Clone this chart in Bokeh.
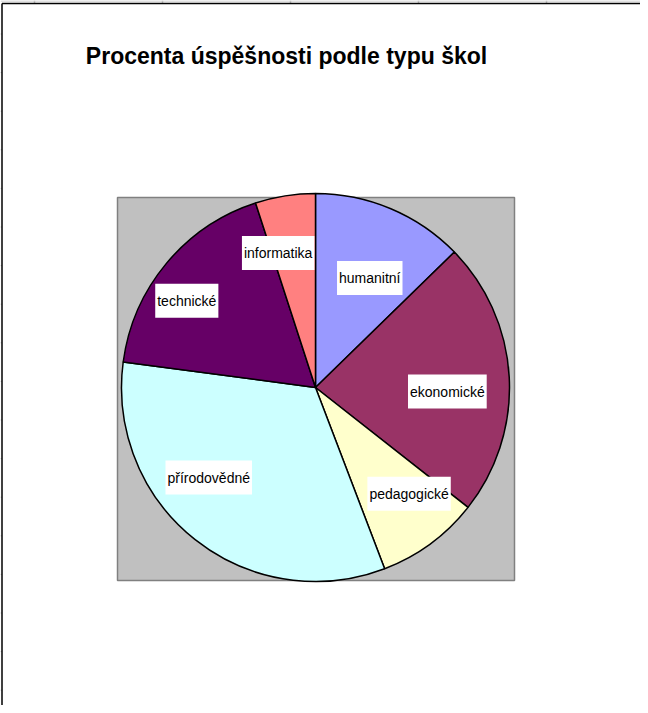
import math
from bokeh.plotting import figure
from bokeh.models import Range1d, ColumnDataSource
from bokeh.core.properties import value
from bokeh.embed import file_html
from bokeh.resources import INLINE

# ---- data ----
title_text = "Procenta úspěšnosti podle typu škol"
categories = ["humanitní", "ekonomické", "pedagogické", "přírodovědné", "technické", "informatika"]
shares = [12.7, 22.9, 8.6, 32.9, 17.9, 5.0]

# ---- styles ----
colors = ["#9999FF", "#993366", "#FFFFCC", "#CCFFFF", "#660066", "#FF8080"]
# label placement: angular shift (deg) from slice middle, radius as fraction of pie radius
label_dtheta = [3.5, 4.8, -5.0, 11.5, -5.8, -6.5]
label_rfrac = [0.63, 0.68, 0.73, 0.72, 0.80, 0.72]

W, H = 640, 705
PAGE_H = 713
CX, CY = 315, PAGE_H - 387
R = 194

p = figure(width=W, height=H, output_backend="svg", toolbar_location=None,
           x_range=Range1d(0, W), y_range=Range1d(PAGE_H - H, PAGE_H), min_border=0,
           background_fill_color="white", border_fill_color="white")
p.axis.visible = False
p.xgrid.visible = False
p.ygrid.visible = False
p.outline_line_color = None

# sheet grid remnants and chart frame
col_ticks = [34, 162, 290, 418, 546]
p.segment(x0=[0], y0=[PAGE_H - 0.5], x1=[W], y1=[PAGE_H - 0.5], line_color="#C0C0C0", line_width=1)
p.segment(x0=col_ticks, y0=[PAGE_H] * 5, x1=col_ticks, y1=[PAGE_H - 3] * 5,
          line_color="#C0C0C0", line_width=1.5)
row_ticks = [PAGE_H - (33.5 + 38.6 * k) for k in range(18)]
p.segment(x0=[0] * 18, y0=row_ticks, x1=[1.2] * 18, y1=row_ticks,
          line_color="#A0A0A0", line_width=1)
p.segment(x0=[1.5, 1.5], y0=[PAGE_H - 3, PAGE_H - 3], x1=[W, 1.5], y1=[PAGE_H - 3, 0],
          line_color="black", line_width=1.5)

# plot area (gray)
p.quad(left=[117], right=[514], top=[PAGE_H - 197], bottom=[PAGE_H - 580],
       fill_color="#C0C0C0", line_color="#808080", line_width=1.5)

total = sum(shares)
starts, ends, lx, ly = [], [], [], []
cum = 0.0
for i, s in enumerate(shares):
    a0 = cum / total * 360.0
    cum += s
    a1 = cum / total * 360.0
    starts.append(math.radians(90 - a0))
    ends.append(math.radians(90 - a1))
    mid = (a0 + a1) / 2 + label_dtheta[i]
    r = R * label_rfrac[i]
    lx.append(CX + r * math.sin(math.radians(mid)))
    ly.append(CY + r * math.cos(math.radians(mid)))

src = ColumnDataSource(dict(cat=categories, start=starts, end=ends,
                            color=colors, lx=lx, ly=ly))

p.wedge(x=CX, y=CY, radius=R, start_angle="start", end_angle="end",
        direction="clock", fill_color="color", line_color="black",
        line_width=1.5, source=src)

p.text(x="lx", y="ly", text="cat", source=src,
       text_font=value("Liberation Sans"), text_font_size="14px",
       text_color="black", text_align="center", text_baseline="middle",
       background_fill_color="white", padding=dict(left=2, right=2, top=9, bottom=9))

p.text(x=[286], y=[PAGE_H - 55], text=[title_text],
       text_font=value("Liberation Sans"), text_font_size="23px",
       text_font_style="bold", text_color="black",
       text_align="center", text_baseline="alphabetic")

open("out.html", "w").write(file_html(p, INLINE))
